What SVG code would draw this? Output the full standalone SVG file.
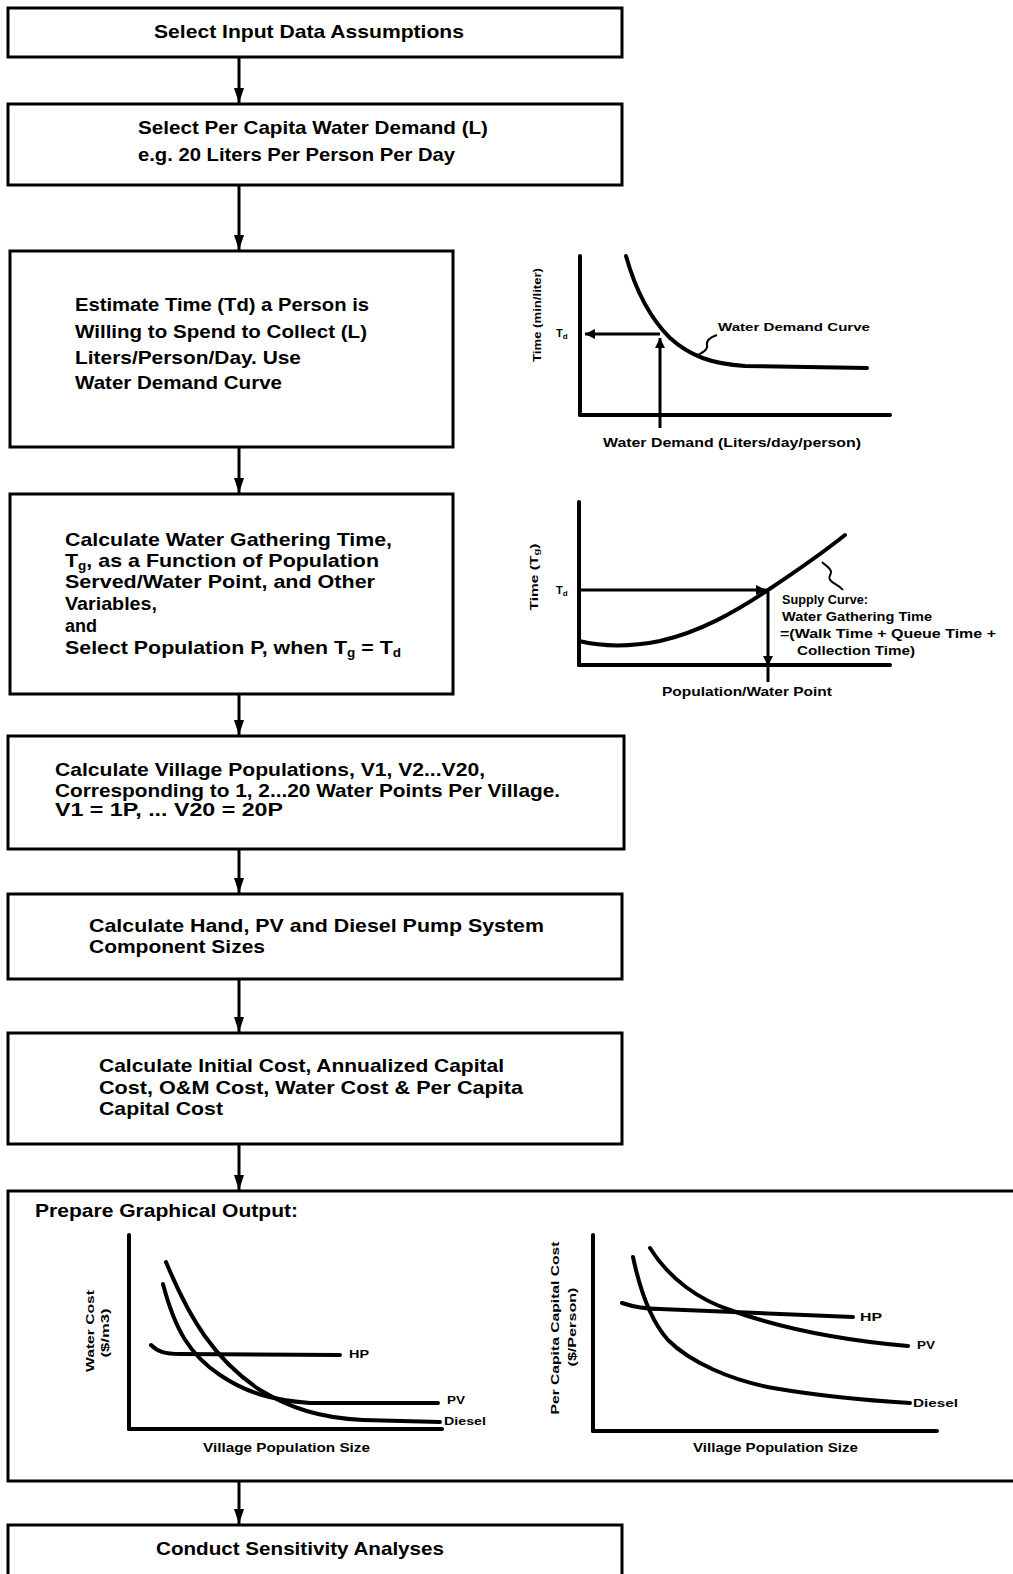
<svg xmlns="http://www.w3.org/2000/svg" width="1013" height="1574" viewBox="0 0 1013 1574">
<style>
.box{fill:#fff;stroke:#000;stroke-width:3}
.t{font-family:"Liberation Sans",Arial,sans-serif;font-weight:bold;font-size:19px;fill:#000}
.s{font-size:11px}
.f10{font-size:11px}
.f11{font-size:12px}
.f115{font-size:12px}
.ax{stroke:#000;stroke-width:4;fill:none;stroke-linecap:round}
.cv{stroke:#000;stroke-width:4;fill:none;stroke-linecap:round}
.ld{stroke:#000;stroke-width:2;fill:none}
.ln{stroke:#000;stroke-width:3;fill:none}
.gl{stroke:#000;stroke-width:3;fill:none}
</style>
<defs>
<marker id="sa" viewBox="0 0 10 10" refX="10" refY="5" markerWidth="10" markerHeight="10" markerUnits="userSpaceOnUse" orient="auto">
<path d="M0,0 L10,5 L0,10 Z" fill="#000"/>
</marker>
</defs>
<rect width="1013" height="1574" fill="#fff"/>

<g id="connectors">
<line class="ln" x1="239" y1="57" x2="239" y2="103"/>
<line class="ln" x1="239" y1="185" x2="239" y2="250"/>
<line class="ln" x1="239" y1="447" x2="239" y2="493"/>
<line class="ln" x1="239" y1="694" x2="239" y2="735"/>
<line class="ln" x1="239" y1="849" x2="239" y2="893"/>
<line class="ln" x1="239" y1="979" x2="239" y2="1032"/>
<line class="ln" x1="239" y1="1144" x2="239" y2="1190"/>
<line class="ln" x1="239" y1="1481" x2="239" y2="1524"/>
<g fill="#000">
<path d="M234,88 L244,88 L239,103 Z"/>
<path d="M234,235 L244,235 L239,250 Z"/>
<path d="M234,478 L244,478 L239,493 Z"/>
<path d="M234,720 L244,720 L239,735 Z"/>
<path d="M234,878 L244,878 L239,893 Z"/>
<path d="M234,1017 L244,1017 L239,1032 Z"/>
<path d="M234,1175 L244,1175 L239,1190 Z"/>
<path d="M234,1509 L244,1509 L239,1524 Z"/>
</g>
</g>

<g id="n1">
<rect class="box" x="8" y="8" width="614" height="49"/>
<text class="t" x="154" y="38" textLength="310" lengthAdjust="spacingAndGlyphs">Select Input Data Assumptions</text>
</g>

<g id="n2">
<rect class="box" x="8" y="104" width="614" height="81"/>
<text class="t" x="138" y="134" textLength="350" lengthAdjust="spacingAndGlyphs">Select Per Capita Water Demand (L)</text>
<text class="t" x="138" y="161" textLength="317" lengthAdjust="spacingAndGlyphs">e.g. 20 Liters Per Person Per Day</text>
</g>

<g id="n3">
<rect class="box" x="10" y="251" width="443" height="196"/>
<text class="t" x="75" y="311" textLength="294" lengthAdjust="spacingAndGlyphs">Estimate Time (Td) a Person is</text>
<text class="t" x="75" y="338" textLength="292" lengthAdjust="spacingAndGlyphs">Willing to Spend to Collect (L)</text>
<text class="t" x="75" y="364" textLength="226" lengthAdjust="spacingAndGlyphs">Liters/Person/Day. Use</text>
<text class="t" x="75" y="389" textLength="207" lengthAdjust="spacingAndGlyphs">Water Demand Curve</text>
</g>

<g id="chart1">
<line class="ax" x1="580" y1="256" x2="580" y2="415"/>
<line class="ax" x1="580" y1="415" x2="890" y2="415"/>
<path class="cv" d="M626,256 C636,292 650,318 670,338 C690,356 712,364 745,366 L867,368"/>
<line class="gl" x1="660" y1="334" x2="585" y2="334" marker-end="url(#sa)"/>
<line class="gl" x1="660" y1="428" x2="660" y2="338" marker-end="url(#sa)"/>
<path class="ld" d="M717,335 c-7,2 -11,6 -10,10 c1,4 -4,8 -12,11"/>
<text class="t s" x="556" y="337">T<tspan font-size="8" dy="2">d</tspan></text>
<text class="t s" x="718" y="331" textLength="152" lengthAdjust="spacingAndGlyphs">Water Demand Curve</text>
<text class="t f10" transform="translate(541,315) rotate(-90)" text-anchor="middle" textLength="94" lengthAdjust="spacingAndGlyphs">Time (min/liter)</text>
<text class="t f11" x="603" y="447" textLength="258" lengthAdjust="spacingAndGlyphs">Water Demand (Liters/day/person)</text>
</g>

<g id="n4">
<rect class="box" x="10" y="494" width="443" height="200"/>
<text class="t" x="65" y="546" textLength="327" lengthAdjust="spacingAndGlyphs">Calculate Water Gathering Time,</text>
<text class="t" x="65" y="567" textLength="314" lengthAdjust="spacingAndGlyphs">T<tspan font-size="12" dy="3">g</tspan><tspan dy="-3">, as a Function of Population</tspan></text>
<text class="t" x="65" y="588" textLength="310" lengthAdjust="spacingAndGlyphs">Served/Water Point, and Other</text>
<text class="t" x="65" y="610" textLength="92" lengthAdjust="spacingAndGlyphs">Variables,</text>
<text class="t" x="65" y="632" textLength="32" lengthAdjust="spacingAndGlyphs">and</text>
<text class="t" x="65" y="654" textLength="336" lengthAdjust="spacingAndGlyphs">Select Population P, when T<tspan font-size="12" dy="3">g</tspan><tspan dy="-3"> = T</tspan><tspan font-size="12" dy="3">d</tspan></text>
</g>

<g id="chart2">
<line class="ax" x1="579" y1="502" x2="579" y2="665"/>
<line class="ax" x1="579" y1="665" x2="890" y2="665"/>
<path class="cv" d="M579,641 C600,646 625,648 660,641 C700,632 735,612 768,590 C795,572 820,555 845,535"/>
<line class="gl" x1="581" y1="590" x2="766" y2="590" marker-end="url(#sa)"/>
<line class="gl" x1="768" y1="592" x2="768" y2="666" marker-end="url(#sa)"/>
<line class="gl" x1="768" y1="666" x2="768" y2="682"/>
<path class="ld" d="M822,562 c4,4 9,6 9,10 c0,4 -4,5 0,9 c3,3 8,4 12,9"/>
<text class="t s" x="556" y="594">T<tspan font-size="8" dy="2">d</tspan></text>
<text class="t f115" x="782" y="604" textLength="86" lengthAdjust="spacingAndGlyphs">Supply Curve:</text>
<text class="t f115" x="782" y="621" textLength="150" lengthAdjust="spacingAndGlyphs">Water Gathering Time</text>
<text class="t f115" x="780" y="638" textLength="216" lengthAdjust="spacingAndGlyphs">=(Walk Time + Queue Time +</text>
<text class="t f115" x="797" y="655" textLength="118" lengthAdjust="spacingAndGlyphs">Collection Time)</text>
<text class="t f10" transform="translate(538,577) rotate(-90)" text-anchor="middle" textLength="67" lengthAdjust="spacingAndGlyphs">Time (T<tspan font-size="8" dy="1">g</tspan><tspan dy="-1">)</tspan></text>
<text class="t f11" x="662" y="696" textLength="170" lengthAdjust="spacingAndGlyphs">Population/Water Point</text>
</g>

<g id="n5">
<rect class="box" x="8" y="736" width="616" height="113"/>
<text class="t" x="55" y="776" textLength="430" lengthAdjust="spacingAndGlyphs">Calculate Village Populations, V1, V2...V20,</text>
<text class="t" x="55" y="797" textLength="505" lengthAdjust="spacingAndGlyphs">Corresponding to 1, 2...20 Water Points Per Village.</text>
<text class="t" x="55" y="816" textLength="228" lengthAdjust="spacingAndGlyphs">V1 = 1P, ... V20 = 20P</text>
</g>

<g id="n6">
<rect class="box" x="8" y="894" width="614" height="85"/>
<text class="t" x="89" y="932" textLength="455" lengthAdjust="spacingAndGlyphs">Calculate Hand, PV and Diesel Pump System</text>
<text class="t" x="89" y="953" textLength="176" lengthAdjust="spacingAndGlyphs">Component Sizes</text>
</g>

<g id="n7">
<rect class="box" x="8" y="1033" width="614" height="111"/>
<text class="t" x="99" y="1072" textLength="405" lengthAdjust="spacingAndGlyphs">Calculate Initial Cost, Annualized Capital</text>
<text class="t" x="99" y="1094" textLength="424" lengthAdjust="spacingAndGlyphs">Cost, O&amp;M Cost, Water Cost &amp; Per Capita</text>
<text class="t" x="99" y="1115" textLength="124" lengthAdjust="spacingAndGlyphs">Capital Cost</text>
</g>

<g id="n8">
<rect class="box" x="8" y="1191" width="1030" height="290"/>
<text class="t" x="35" y="1217" textLength="263" lengthAdjust="spacingAndGlyphs">Prepare Graphical Output:</text>
</g>

<g id="chart3">
<line class="ax" x1="129" y1="1235" x2="129" y2="1429"/>
<line class="ax" x1="129" y1="1429" x2="442" y2="1429"/>
<path class="cv" d="M151,1345 C158,1352 165,1354 180,1354 L340,1355"/>
<path class="cv" d="M166,1262 C190,1320 215,1360 260,1390 C290,1408 320,1418 363,1420 L440,1422"/>
<path class="cv" d="M163,1284 C175,1330 190,1355 220,1375 C245,1392 270,1400 310,1403 L438,1403"/>
<text class="t s" x="349" y="1358" textLength="20" lengthAdjust="spacingAndGlyphs">HP</text>
<text class="t s" x="447" y="1404" textLength="18" lengthAdjust="spacingAndGlyphs">PV</text>
<text class="t s" x="444" y="1425" textLength="42" lengthAdjust="spacingAndGlyphs">Diesel</text>
<text class="t f10" transform="translate(94,1331) rotate(-90)" text-anchor="middle" textLength="82" lengthAdjust="spacingAndGlyphs">Water Cost</text>
<text class="t f10" transform="translate(109,1333) rotate(-90)" text-anchor="middle" textLength="49" lengthAdjust="spacingAndGlyphs">($/m3)</text>
<text class="t f11" x="203" y="1452" textLength="167" lengthAdjust="spacingAndGlyphs">Village Population Size</text>
</g>

<g id="chart4">
<line class="ax" x1="593" y1="1235" x2="593" y2="1431"/>
<line class="ax" x1="593" y1="1431" x2="937" y2="1431"/>
<path class="cv" d="M622,1303 Q640,1309 660,1309 L853,1317"/>
<path class="cv" d="M650,1248 C670,1280 700,1300 730,1310 C780,1328 840,1340 908,1346"/>
<path class="cv" d="M633,1257 C640,1290 650,1320 668,1340 C690,1362 730,1380 773,1388 C820,1396 860,1400 910,1403"/>
<text class="t s" x="860" y="1321" textLength="22" lengthAdjust="spacingAndGlyphs">HP</text>
<text class="t s" x="917" y="1349" textLength="18" lengthAdjust="spacingAndGlyphs">PV</text>
<text class="t s" x="913" y="1407" textLength="45" lengthAdjust="spacingAndGlyphs">Diesel</text>
<text class="t f10" transform="translate(559,1328) rotate(-90)" text-anchor="middle" textLength="173" lengthAdjust="spacingAndGlyphs">Per Capita Capital Cost</text>
<text class="t f10" transform="translate(576,1327) rotate(-90)" text-anchor="middle" textLength="79" lengthAdjust="spacingAndGlyphs">($/Person)</text>
<text class="t f11" x="693" y="1452" textLength="165" lengthAdjust="spacingAndGlyphs">Village Population Size</text>
</g>

<g id="n9">
<rect class="box" x="8" y="1525" width="614" height="70"/>
<text class="t" x="156" y="1555" textLength="288" lengthAdjust="spacingAndGlyphs">Conduct Sensitivity Analyses</text>
</g>
</svg>
